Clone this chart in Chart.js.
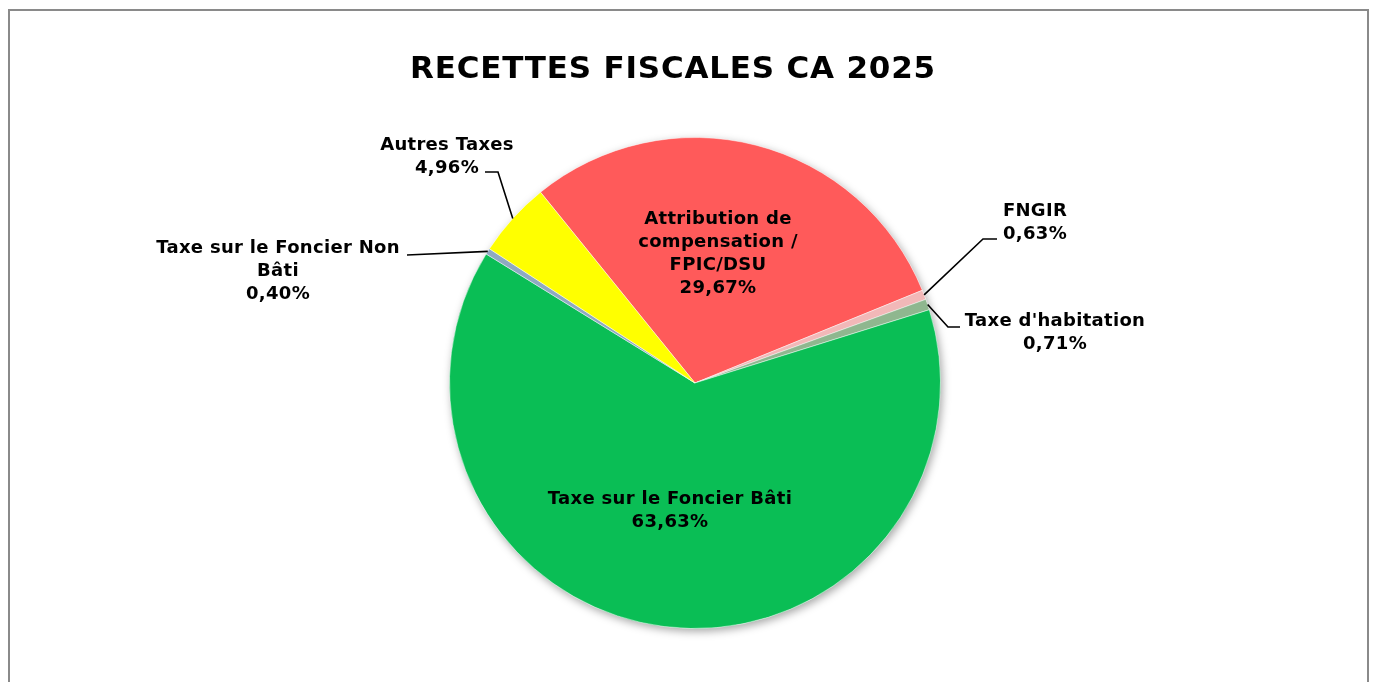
<!DOCTYPE html>
<html>
<head>
<meta charset="utf-8">
<title>Recettes fiscales CA 2025</title>
<script src="https://cdn.jsdelivr.net/npm/chart.js@4.4.1/dist/chart.umd.min.js"></script>
<style>
  html, body { margin: 0; padding: 0; background: #fff; overflow: hidden; }
  #frame { position: absolute; left: 8px; top: 9px; width: 1357px; height: 700px; border: 2px solid #8a8a8a; }
  #wrap { position: absolute; left: 0; top: 0; width: 1374px; height: 682px; }
</style>
</head>
<body>
<div id="frame"></div>
<div id="wrap"><canvas id="pieChart"></canvas></div>
<script>
const chartTitle = 'RECETTES FISCALES CA 2025';
const categories = [
  'Attribution de compensation / FPIC/DSU',
  'FNGIR',
  "Taxe d'habitation",
  'Taxe sur le Foncier Bâti',
  'Taxe sur le Foncier Non Bâti',
  'Autres Taxes'
];
const shares = [29.67, 0.63, 0.71, 63.63, 0.40, 4.96];
const sliceColors = ['#ff5a5a', '#f2b8b8', '#8fb78f', '#0abe55', '#8fa9c2', '#ffff00'];

// where each label sits, px from the pie centre (layout only)
const labelSpots = [
  { x: 23, y: -129, maxWidth: 195 },
  { x: 340, y: -160, elbow: [288, -144], end: [302, -144] },
  { x: 360, y: -50, elbow: [253, -56], end: [265, -56] },
  { x: -25, y: 128, maxWidth: 400 },
  { x: -417, y: -112, maxWidth: 280, end: [-288, -128] },
  { x: -248, y: -226, elbow: [-197, -211], end: [-210, -211] }
];

const labelFont = 'bold 18px "DejaVu Sans", Verdana, sans-serif';
const lineGap = 23;

function pct(v) {
  return v.toFixed(2).replace('.', ',') + '%';
}

function wrapText(ctx, text, maxWidth) {
  if (!maxWidth) return [text];
  const words = text.split(' ');
  const lines = [];
  let cur = '';
  words.forEach(w => {
    const test = cur ? cur + ' ' + w : w;
    if (cur && ctx.measureText(test).width > maxWidth) {
      lines.push(cur);
      cur = w;
    } else {
      cur = test;
    }
  });
  if (cur) lines.push(cur);
  return lines;
}

const pieExtras = {
  id: 'pieExtras',
  beforeDatasetsDraw(chart) {
    const ctx = chart.ctx;
    const arc = chart.getDatasetMeta(0).data[0];
    // soft shadow under the pie
    ctx.save();
    ctx.shadowColor = 'rgba(0,0,0,0.35)';
    ctx.shadowBlur = 8;
    ctx.shadowOffsetX = 2;
    ctx.shadowOffsetY = 3;
    ctx.fillStyle = '#ffffff';
    ctx.beginPath();
    ctx.arc(arc.x, arc.y, arc.outerRadius, 0, Math.PI * 2);
    ctx.fill();
    ctx.restore();
  },
  afterDatasetsDraw(chart) {
    const ctx = chart.ctx;
    const meta = chart.getDatasetMeta(0);
    ctx.save();

    // title
    ctx.font = 'bold 31px "DejaVu Sans", Verdana, sans-serif';
    ctx.letterSpacing = '0.8px';
    ctx.fillStyle = '#000';
    ctx.textAlign = 'center';
    ctx.textBaseline = 'middle';
    ctx.fillText(chartTitle, 673, 70);

    ctx.font = labelFont;
    ctx.letterSpacing = '0.3px';
    meta.data.forEach((el, i) => {
      const spot = labelSpots[i];
      const cx = el.x, cy = el.y;
      const mid = (el.startAngle + el.endAngle) / 2;
      const ax = cx + Math.cos(mid) * el.outerRadius;
      const ay = cy + Math.sin(mid) * el.outerRadius;

      if (spot.end) {
        ctx.strokeStyle = '#000';
        ctx.lineWidth = 1.6;
        ctx.beginPath();
        ctx.moveTo(ax, ay);
        if (spot.elbow) ctx.lineTo(cx + spot.elbow[0], cy + spot.elbow[1]);
        ctx.lineTo(cx + spot.end[0], cy + spot.end[1]);
        ctx.stroke();
      }

      const lines = wrapText(ctx, categories[i], spot.maxWidth);
      lines.push(pct(shares[i]));
      const tx = cx + spot.x;
      const top = cy + spot.y - (lines.length - 1) * lineGap / 2;
      ctx.fillStyle = '#000';
      lines.forEach((ln, k) => ctx.fillText(ln, tx, top + k * lineGap));
    });
    ctx.restore();
  }
};

new Chart(document.getElementById('pieChart'), {
  type: 'pie',
  data: {
    labels: categories,
    datasets: [{
      data: shares,
      backgroundColor: sliceColors,
      borderColor: 'rgba(255,255,255,0.45)',
      borderWidth: 1
    }]
  },
  options: {
    responsive: true,
    maintainAspectRatio: false,
    animation: false,
    rotation: -39,
    layout: { padding: { top: 137, bottom: 53, left: 216, right: 200 } },
    plugins: {
      legend: { display: false },
      tooltip: { enabled: false },
      title: { display: false }
    }
  },
  plugins: [pieExtras]
});
</script>
</body>
</html>
